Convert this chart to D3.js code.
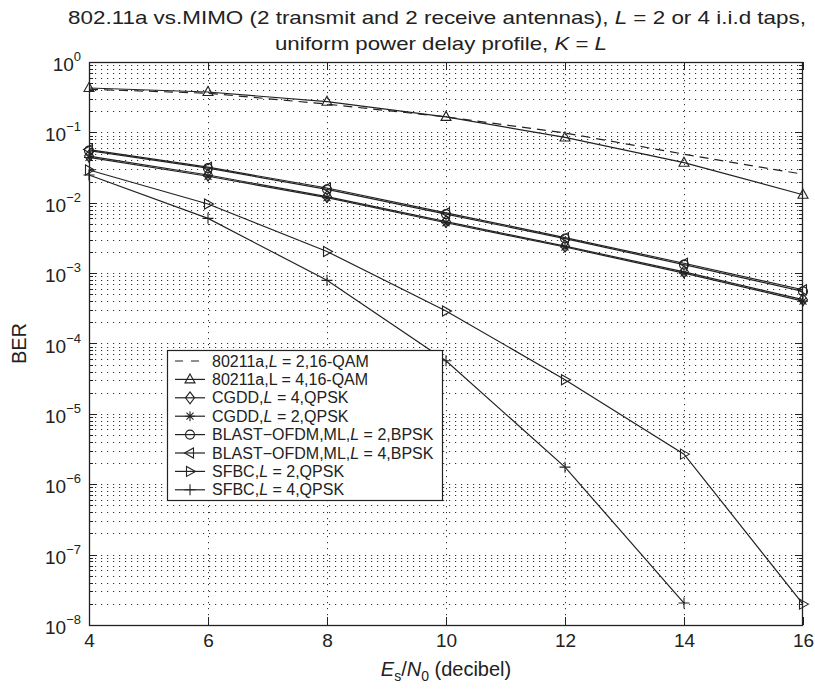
<!DOCTYPE html>
<html>
<head>
<meta charset="utf-8">
<script src="https://cdn.jsdelivr.net/npm/d3@7"></script>
<style>
  html, body { margin: 0; padding: 0; background: #fff; }
  svg { display: block; font-family: "Liberation Sans", Arial, Helvetica, sans-serif; }
</style>
</head>
<body>
<svg id="chart" width="815" height="689"></svg>
<script>
// ---------------- data ----------------
const snr = [4, 6, 8, 10, 12, 14, 16];
const snrSfbcL4 = [4, 6, 8, 10, 12, 14];

const ber80211aL2 = [0.41, 0.36, 0.252, 0.166, 0.098, 0.049, 0.0254];
const ber80211aL4 = [0.427, 0.375, 0.273, 0.166, 0.0847, 0.0371, 0.0130];
const berCgddL4   = [0.046, 0.0248, 0.0122, 0.0054, 0.00242, 0.00104, 0.00042];
const berCgddL2   = [0.044, 0.0238, 0.0118, 0.0052, 0.00235, 0.00100, 0.00040];
const berBlastL2  = [0.055, 0.031, 0.0155, 0.0069, 0.0031, 0.00132, 0.00055];
const berBlastL4  = [0.057, 0.032, 0.0162, 0.0072, 0.0032, 0.00138, 0.00058];
const berSfbcL2   = [0.0292, 0.0096, 0.00203, 2.9e-4, 3.06e-5, 2.68e-6, 1.98e-8];
const berSfbcL4   = [0.0248, 0.0060, 7.9e-4, 5.7e-5, 1.75e-6, 2.05e-8];

const xTicks = [4, 6, 8, 10, 12, 14, 16];
const yExponents = [0, -1, -2, -3, -4, -5, -6, -7, -8];

const legendLabels = [
  ["80211a,", {i: "L"}, " = 2,16-QAM"],
  ["80211a,L = 4,16-QAM"],
  ["CGDD,", {i: "L"}, " = 4,QPSK"],
  ["CGDD,", {i: "L"}, " = 2,QPSK"],
  ["BLAST\u2212OFDM,ML,", {i: "L"}, " = 2,BPSK"],
  ["BLAST\u2212OFDM,ML,", {i: "L"}, " = 4,BPSK"],
  ["SFBC,", {i: "L"}, " = 2,QPSK"],
  ["SFBC,", {i: "L"}, " = 4,QPSK"]
];

const series = [
  {x: snr, y: ber80211aL2, marker: null, dash: "9,6"},
  {x: snr, y: ber80211aL4, marker: "up"},
  {x: snr, y: berCgddL4, marker: "diamond"},
  {x: snr, y: berCgddL2, marker: "star"},
  {x: snr, y: berBlastL2, marker: "circle"},
  {x: snr, y: berBlastL4, marker: "left"},
  {x: snr, y: berSfbcL2, marker: "right"},
  {x: snrSfbcL4, y: berSfbcL4, marker: "plus"}
];

// ---------------- layout ----------------
const svg = d3.select("#chart");
const L = 89, R = 803, T = 62, B = 625;
const ink = "#222";
const x = d3.scaleLinear().domain([4, 16]).range([L, R]);
const y = d3.scaleLog().domain([1e-8, 1]).range([B, T]);

svg.append("rect").attr("width", 815).attr("height", 689).attr("fill", "#fff");

// grid
const grid = svg.append("g").attr("stroke", "#333").attr("stroke-width", 1)
  .attr("stroke-dasharray", "1.2,4.8").attr("fill", "none");
const minorVals = [];
yExponents.slice(1).forEach(e => { for (let m = 2; m <= 9; m++) minorVals.push(m * Math.pow(10, e)); });
const majorVals = yExponents.map(e => Math.pow(10, e));
grid.selectAll("line.hy").data(majorVals.concat(minorVals)).join("line")
  .attr("x1", L).attr("x2", R)
  .attr("y1", d => Math.round(y(d)) + 0.5).attr("y2", d => Math.round(y(d)) + 0.5);
grid.selectAll("line.vx").data(xTicks.slice(1, -1)).join("line")
  .attr("class", "vx")
  .attr("x1", d => Math.round(x(d)) + 0.5).attr("x2", d => Math.round(x(d)) + 0.5)
  .attr("y1", T).attr("y2", B);

// ticks
const ticks = svg.append("g").attr("stroke", ink).attr("stroke-width", 1);
majorVals.forEach(v => {
  const yy = Math.round(y(v)) + 0.5;
  ticks.append("line").attr("x1", L).attr("x2", L + 8).attr("y1", yy).attr("y2", yy);
  ticks.append("line").attr("x1", R).attr("x2", R - 8).attr("y1", yy).attr("y2", yy);
});
minorVals.forEach(v => {
  const yy = Math.round(y(v)) + 0.5;
  ticks.append("line").attr("x1", L).attr("x2", L + 4).attr("y1", yy).attr("y2", yy);
  ticks.append("line").attr("x1", R).attr("x2", R - 4).attr("y1", yy).attr("y2", yy);
});
xTicks.forEach(v => {
  const xx = Math.round(x(v)) + 0.5;
  ticks.append("line").attr("x1", xx).attr("x2", xx).attr("y1", B).attr("y2", B - 8);
  ticks.append("line").attr("x1", xx).attr("x2", xx).attr("y1", T).attr("y2", T + 8);
});

// x tick labels via axis
const xAxis = svg.append("g").attr("transform", `translate(0,${B})`)
  .call(d3.axisBottom(x).tickValues(xTicks).tickSize(0).tickPadding(9).tickFormat(d3.format("d")));
xAxis.select(".domain").remove();
xAxis.selectAll("text").attr("font-size", 19).attr("fill", ink)
  .attr("font-family", '"Liberation Sans", Arial, sans-serif');

// y tick labels
const yLab = svg.append("g").attr("fill", ink);
yExponents.forEach(e => {
  const t = yLab.append("text").attr("x", 81).attr("y", y(Math.pow(10, e)) + 9)
    .attr("text-anchor", "end").attr("font-size", 19);
  t.append("tspan").text("10");
  t.append("tspan").attr("font-size", 13).attr("dy", -10)
    .text(e === 0 ? "0" : "\u2212" + Math.abs(e));
});

// box
svg.append("rect").attr("x", L + 0.5).attr("y", T + 0.5)
  .attr("width", R - L - 1).attr("height", B - T).attr("fill", "none")
  .attr("stroke", ink).attr("stroke-width", 1.3);

// markers
function markerPath(type) {
  switch (type) {
    case "up": return "M0,-5.5L5,3.5L-5,3.5Z";
    case "left": return "M-5.5,0L3.5,-5L3.5,5Z";
    case "right": return "M5.5,0L-3.5,-5L-3.5,5Z";
    case "diamond": return "M0,-6L4.5,0L0,6L-4.5,0Z";
    case "plus": return "M-5.5,0H5.5M0,-5.5V5.5";
    case "star": return "M-5,0H5M0,-5V5M-3.5,-3.5L3.5,3.5M-3.5,3.5L3.5,-3.5";
    case "circle": return d3.arc()({innerRadius: 0, outerRadius: 4.5, startAngle: 0, endAngle: 2 * Math.PI});
  }
  return null;
}

const line = d3.line().x(d => x(d[0])).y(d => y(d[1]));
const plot = svg.append("g");
series.forEach(s => {
  const pts = s.x.map((v, i) => [v, s.y[i]]);
  plot.append("path").attr("d", line(pts)).attr("fill", "none")
    .attr("stroke", ink).attr("stroke-width", 1.2)
    .attr("stroke-dasharray", s.dash || null);
  if (s.marker) {
    plot.append("g").selectAll("path").data(pts).join("path")
      .attr("transform", d => `translate(${x(d[0])},${y(d[1])})`)
      .attr("d", markerPath(s.marker))
      .attr("fill", "none").attr("stroke", ink).attr("stroke-width", 1.1);
  }
});

// legend
const lg = svg.append("g");
const lgX = 167, lgY = 350, lgW = 275, lgH = 150, rowH = 18.4;
lg.append("rect").attr("x", lgX + 0.5).attr("y", lgY + 0.5).attr("width", lgW).attr("height", lgH)
  .attr("fill", "#fff").attr("stroke", ink).attr("stroke-width", 1.2);
series.forEach((s, i) => {
  const cy = lgY + 11 + i * rowH;
  lg.append("line").attr("x1", 175).attr("x2", 205).attr("y1", cy).attr("y2", cy)
    .attr("stroke", ink).attr("stroke-width", 1.2).attr("stroke-dasharray", s.dash ? "8,8" : null);
  if (s.marker) {
    lg.append("path").attr("transform", `translate(190,${cy})`).attr("d", markerPath(s.marker))
      .attr("fill", "none").attr("stroke", ink).attr("stroke-width", 1.1);
  }
  const t = lg.append("text").attr("x", 212).attr("y", cy + 5.5).attr("font-size", 16).attr("fill", ink);
  legendLabels[i].forEach(part => {
    if (typeof part === "string") t.append("tspan").text(part);
    else t.append("tspan").attr("font-style", "italic").text(part.i);
  });
});

// title
const title = svg.append("g").attr("fill", ink).attr("font-size", 19).attr("text-anchor", "middle");
const t1 = title.append("text").attr("x", 437).attr("y", 24)
  .attr("textLength", 738).attr("lengthAdjust", "spacingAndGlyphs");
t1.append("tspan").text("802.11a vs.MIMO (2 transmit and 2 receive antennas), ");
t1.append("tspan").attr("font-style", "italic").text("L");
t1.append("tspan").text(" = 2 or 4 i.i.d taps,");
const t2 = title.append("text").attr("x", 441).attr("y", 50)
  .attr("textLength", 332).attr("lengthAdjust", "spacingAndGlyphs");
t2.append("tspan").text("uniform power delay profile, ");
t2.append("tspan").attr("font-style", "italic").text("K");
t2.append("tspan").text(" = ");
t2.append("tspan").attr("font-style", "italic").text("L");

// axis labels
svg.append("text").attr("transform", `translate(26,${(T + B) / 2}) rotate(-90)`)
  .attr("text-anchor", "middle").attr("font-size", 20).attr("fill", ink).text("BER");

const xl = svg.append("text").attr("x", 446).attr("y", 676).attr("text-anchor", "middle")
  .attr("font-size", 20).attr("fill", ink);
xl.append("tspan").attr("font-style", "italic").text("E");
xl.append("tspan").attr("font-size", 14).attr("dy", 5).text("s");
xl.append("tspan").attr("dy", -5).text("/");
xl.append("tspan").attr("font-style", "italic").text("N");
xl.append("tspan").attr("font-size", 14).attr("dy", 5).text("0");
xl.append("tspan").attr("dy", -5).text(" (decibel)");
</script>
</body>
</html>
